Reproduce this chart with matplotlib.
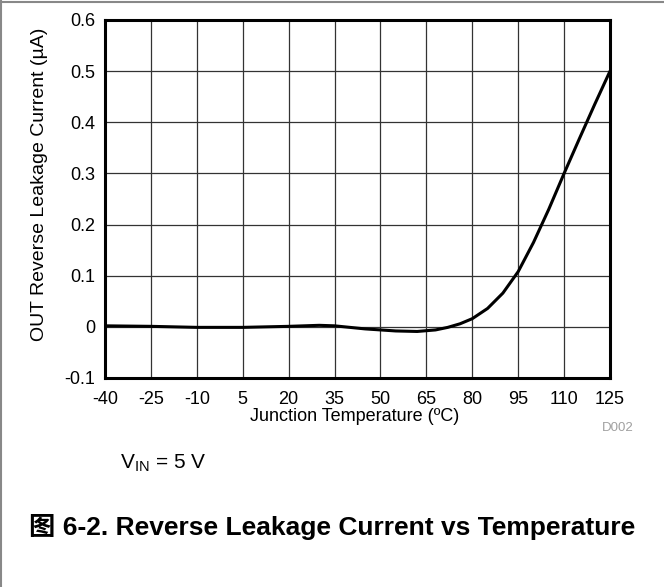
import matplotlib
matplotlib.use("Agg")
import matplotlib.pyplot as plt
from matplotlib.lines import Line2D

plt.rcParams['font.family'] = ['Liberation Sans', 'Noto Sans CJK SC', 'DejaVu Sans']
plt.rcParams['mathtext.fontset'] = 'custom'
plt.rcParams['mathtext.rm'] = 'Liberation Sans'

# reverse leakage current
temp_c = [-40, -25, -10, 5, 20, 30, 35, 45, 55, 62, 68, 72, 76, 80, 85, 90, 95,
          100, 105, 110, 115, 120, 125]
leak_ua = [0.002, 0.001, -0.001, -0.001, 0.001, 0.003, 0.002, -0.004, -0.008,
           -0.009, -0.006, -0.001, 0.006, 0.016, 0.036, 0.066, 0.108,
           0.165, 0.230, 0.300, 0.368, 0.435, 0.500]

x_ticks = [-40, -25, -10, 5, 20, 35, 50, 65, 80, 95, 110, 125]
y_ticks = [-0.1, 0, 0.1, 0.2, 0.3, 0.4, 0.5, 0.6]
y_labels = ['-0.1', '0', '0.1', '0.2', '0.3', '0.4', '0.5', '0.6']

fig = plt.figure(figsize=(6.64, 5.87), dpi=100)
ax = fig.add_axes([105 / 664, 1 - 378 / 587, 505 / 664, 358 / 587])

ax.plot(temp_c, leak_ua, color='black', lw=2.2, solid_capstyle='round')
ax.set_xlim(-40, 125)
ax.set_ylim(-0.1, 0.6)
ax.set_xticks(x_ticks)
ax.set_xticklabels([str(t) for t in x_ticks])
ax.set_yticks(y_ticks)
ax.set_yticklabels(y_labels)
ax.grid(True, color='#333333', lw=0.9)
ax.set_axisbelow(True)
ax.tick_params(length=0, labelsize=13)
ax.tick_params(axis='x', pad=9)
ax.tick_params(axis='y', pad=7)
for s in ax.spines.values():
    s.set_linewidth(2.2)
    s.set_color('black')

ax.set_xlabel('Junction Temperature (ºC)', fontsize=13)
ax.xaxis.set_label_coords(0.495, -0.085)
ax.set_ylabel('OUT Reverse Leakage Current (µA)', fontsize=14)
ax.yaxis.set_label_coords(-0.113, 0.542)

fig.text(618 / 664, 1 - 428 / 587, 'D002', fontsize=9.5, color='#a0a0a0',
         ha='center', va='center')
fig.text(120 / 664, 1 - 463 / 587, r'$\mathregular{V_{IN}}$ = 5 V', fontsize=15,
         ha='left', va='center')
fig.text(29 / 664, 1 - 527 / 587, '图 6-2. Reverse Leakage Current vs Temperature',
         fontsize=19, fontweight='bold', ha='left', va='center')

# page frame: left and top edges only
fig.add_artist(Line2D([0.002, 0.002], [0, 0.998], transform=fig.transFigure,
                      color='#888888', lw=1.5))
fig.add_artist(Line2D([0, 1], [0.997, 0.997], transform=fig.transFigure,
                      color='#888888', lw=1.5))

fig.savefig('out.png', dpi=100)
